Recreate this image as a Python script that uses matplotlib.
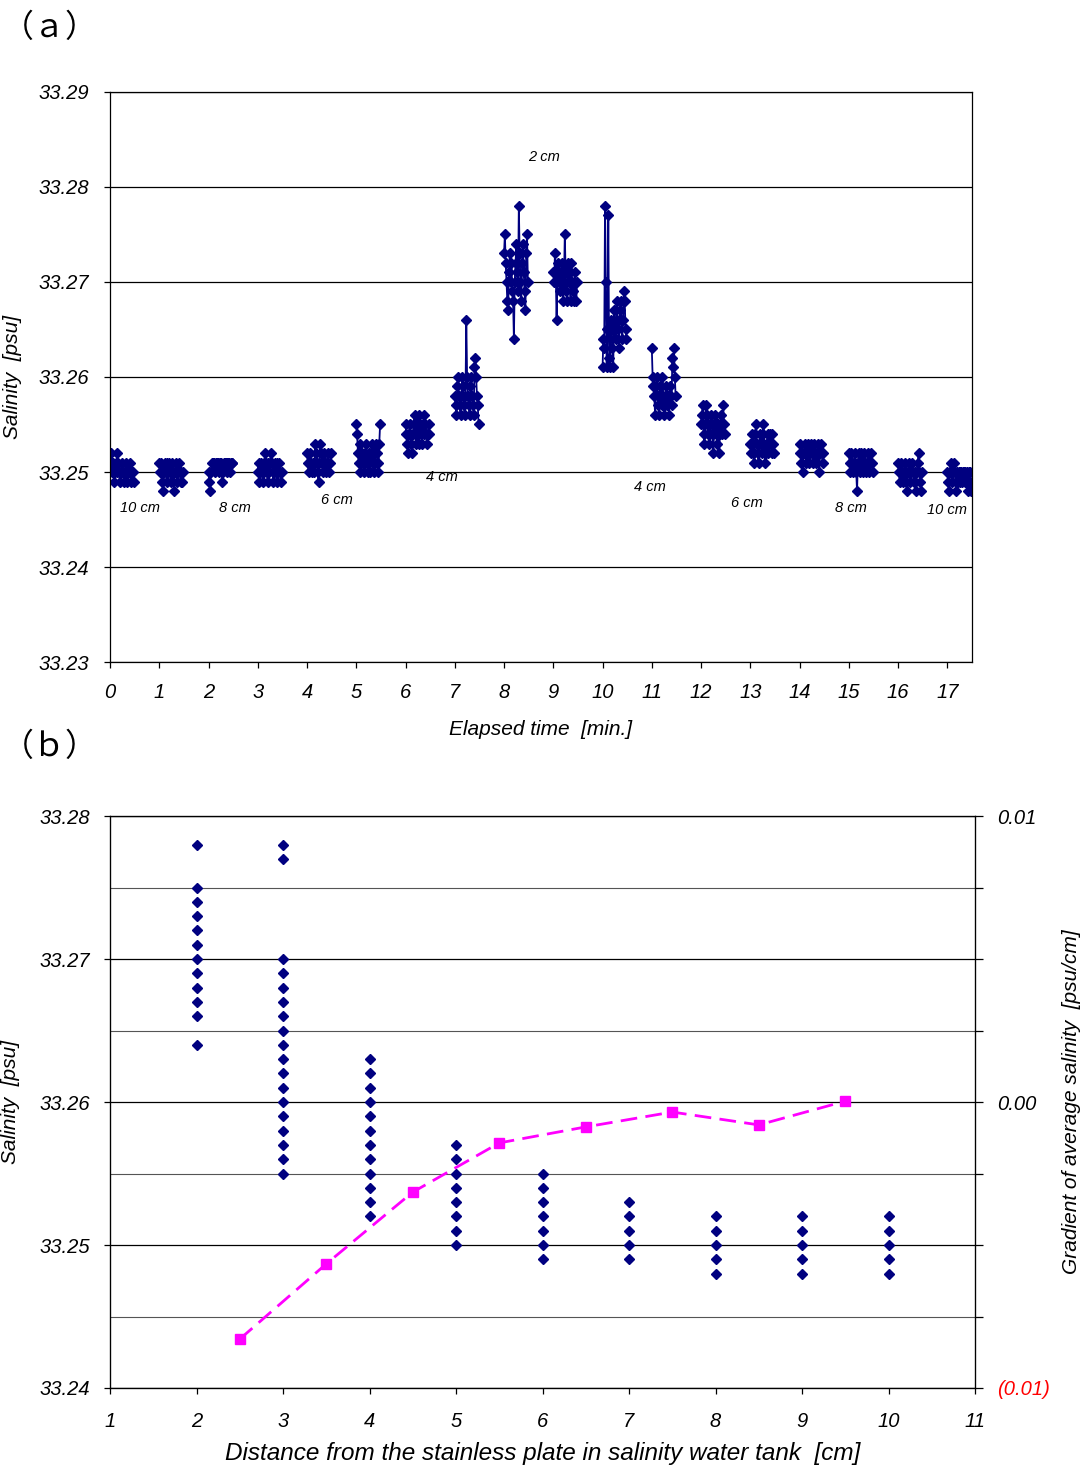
import numpy as np
import matplotlib
matplotlib.use("Agg")
import matplotlib.pyplot as plt
from matplotlib.ticker import MultipleLocator, FuncFormatter

# ---------------- Data: panel (a) ----------------
cluster_starts = [0, 1, 2, 3, 4, 5, 6, 7, 8, 9, 10, 11, 12, 13, 14, 15, 16, 17]  # min
sample_interval_min = 1.0 / 60.0

c00 = [33.251,33.252,33.251,33.250,33.251,33.249,33.250,33.251,33.250,33.252,33.251,33.250,33.249,33.250,33.251,33.250,33.250,33.249,33.250,33.251,33.250,33.249,33.250,33.250,33.251,33.250,33.249,33.250,33.250,33.249]
c01 = [33.251,33.250,33.251,33.249,33.250,33.248,33.250,33.251,33.250,33.249,33.251,33.250,33.251,33.250,33.249,33.250,33.251,33.250,33.248,33.250,33.251,33.250,33.249,33.250,33.251,33.250,33.249,33.250,33.249,33.250]
c02 = [33.250,33.249,33.248,33.250,33.251,33.251,33.251,33.251,33.250,33.251,33.251,33.251,33.251,33.250,33.251,33.251,33.250,33.249,33.250,33.251,33.251,33.251,33.251,33.250,33.251,33.251,33.250,33.251,33.251,33.251]
c03 = [33.250,33.251,33.249,33.250,33.251,33.250,33.249,33.250,33.251,33.252,33.251,33.250,33.249,33.251,33.250,33.251,33.252,33.251,33.250,33.249,33.250,33.251,33.250,33.249,33.251,33.250,33.251,33.250,33.249,33.250]
c04 = [33.252,33.251,33.250,33.251,33.252,33.251,33.250,33.251,33.250,33.251,33.253,33.252,33.251,33.250,33.249,33.251,33.253,33.252,33.251,33.250,33.251,33.252,33.251,33.250,33.251,33.252,33.251,33.250,33.251,33.252]
c05 = [33.255,33.254,33.252,33.251,33.253,33.250,33.251,33.252,33.251,33.250,33.251,33.252,33.253,33.251,33.250,33.252,33.251,33.250,33.252,33.253,33.251,33.250,33.252,33.251,33.253,33.252,33.251,33.250,33.253,33.255]
c06 = [33.255,33.254,33.253,33.252,33.254,33.255,33.254,33.253,33.252,33.254,33.255,33.256,33.254,33.253,33.255,33.254,33.253,33.256,33.255,33.254,33.253,33.255,33.254,33.256,33.255,33.254,33.253,33.254,33.255,33.254]
c07 = [33.258,33.257,33.256,33.259,33.260,33.258,33.257,33.256,33.258,33.260,33.259,33.257,33.256,33.258,33.266,33.260,33.258,33.257,33.256,33.259,33.260,33.258,33.257,33.256,33.261,33.262,33.260,33.258,33.257,33.255]
c08 = [33.273,33.275,33.272,33.270,33.268,33.267,33.271,33.273,33.270,33.272,33.269,33.268,33.264,33.270,33.272,33.274,33.271,33.269,33.278,33.273,33.270,33.268,33.272,33.274,33.271,33.269,33.267,33.273,33.275,33.270]
c09 = [33.271,33.270,33.273,33.271,33.266,33.270,33.272,33.271,33.269,33.270,33.272,33.271,33.268,33.270,33.275,33.271,33.269,33.268,33.272,33.270,33.271,33.268,33.272,33.270,33.269,33.268,33.271,33.270,33.268,33.270]
c10 = [33.261,33.264,33.263,33.278,33.270,33.261,33.265,33.277,33.262,33.261,33.266,33.265,33.263,33.261,33.267,33.265,33.264,33.268,33.266,33.265,33.263,33.267,33.268,33.266,33.264,33.266,33.269,33.268,33.265,33.264]
c11 = [33.263,33.260,33.259,33.258,33.256,33.259,33.260,33.258,33.257,33.256,33.259,33.258,33.257,33.260,33.258,33.256,33.257,33.259,33.258,33.257,33.258,33.256,33.259,33.258,33.257,33.262,33.261,33.263,33.260,33.258]
c12 = [33.255,33.256,33.257,33.254,33.253,33.255,33.257,33.256,33.254,33.255,33.253,33.254,33.256,33.255,33.254,33.252,33.255,33.256,33.254,33.255,33.253,33.255,33.252,33.254,33.256,33.255,33.254,33.257,33.255,33.254]
c13 = [33.253,33.252,33.254,33.253,33.251,33.252,33.254,33.255,33.253,33.252,33.251,33.253,33.254,33.253,33.252,33.254,33.255,33.253,33.251,33.252,33.253,33.254,33.252,33.253,33.254,33.253,33.252,33.254,33.253,33.252]
c14 = [33.252,33.253,33.251,33.252,33.250,33.252,33.253,33.252,33.251,33.252,33.253,33.252,33.251,33.252,33.253,33.252,33.251,33.252,33.253,33.252,33.251,33.252,33.253,33.252,33.250,33.252,33.253,33.252,33.251,33.252]
c15 = [33.252,33.251,33.250,33.252,33.251,33.250,33.251,33.252,33.251,33.250,33.248,33.251,33.252,33.251,33.250,33.252,33.251,33.250,33.251,33.252,33.251,33.250,33.251,33.252,33.251,33.250,33.251,33.252,33.251,33.250]
c16 = [33.251,33.250,33.249,33.250,33.251,33.250,33.249,33.250,33.251,33.250,33.249,33.248,33.250,33.251,33.250,33.249,33.250,33.251,33.250,33.249,33.250,33.249,33.248,33.250,33.251,33.252,33.250,33.249,33.248,33.250]
c17 = [33.250,33.249,33.248,33.250,33.251,33.250,33.249,33.250,33.251,33.250,33.249,33.248,33.250,33.249,33.250,33.250,33.249,33.250,33.249,33.250,33.250,33.249,33.250,33.249,33.250,33.248,33.250,33.249,33.250,33.248]
clusters = [c00, c01, c02, c03, c04, c05, c06, c07, c08, c09,
            c10, c11, c12, c13, c14, c15, c16, c17]

pos_labels = ["10 cm", "8 cm", "6 cm", "4 cm", "2 cm", "4 cm", "6 cm", "8 cm", "10 cm"]
pos_label_x = [0.61, 2.54, 4.6, 6.73, 8.82, 10.97, 12.92, 15.05, 17.0]
pos_label_y = [33.2462, 33.2462, 33.2471, 33.2495, 33.2831, 33.2484, 33.2467, 33.2462, 33.2460]

# ---------------- Data: panel (b) ----------------
dist_cm = [2, 3, 4, 5, 6, 7, 8, 9, 10]
sal_by_dist = [
    [33.278, 33.275, 33.274, 33.273, 33.272, 33.271, 33.270, 33.269, 33.268, 33.267, 33.266, 33.264],
    [33.278, 33.277, 33.270, 33.269, 33.268, 33.267, 33.266, 33.265, 33.264, 33.263, 33.262, 33.261,
     33.260, 33.259, 33.258, 33.257, 33.256, 33.255],
    [33.263, 33.262, 33.261, 33.260, 33.259, 33.258, 33.257, 33.256, 33.255, 33.254, 33.253, 33.252],
    [33.257, 33.256, 33.255, 33.254, 33.253, 33.252, 33.251, 33.250],
    [33.255, 33.254, 33.253, 33.252, 33.251, 33.250, 33.249],
    [33.253, 33.252, 33.251, 33.250, 33.249],
    [33.252, 33.251, 33.250, 33.249, 33.248],
    [33.252, 33.251, 33.250, 33.249, 33.248],
    [33.252, 33.251, 33.250, 33.249, 33.248],
]
grad_x = [2.5, 3.5, 4.5, 5.5, 6.5, 7.5, 8.5, 9.5]
grad_vals = [-0.00829, -0.00566, -0.00315, -0.00143, -0.00087, -0.00035, -0.00080, 0.00003]

# ---------------- Figure ----------------
NAVY = "#000080"
MAG = "#FF00FF"
FONT = "Liberation Sans"
plt.rcParams["font.family"] = [FONT, "DejaVu Sans"]
plt.rcParams["font.style"] = "italic"

fig = plt.figure(figsize=(10.86, 14.68), dpi=100)

# ----- Panel (a) -----
axa = fig.add_axes([0.1013, 0.549, 0.7937, 0.3884])
for start, vals in zip(cluster_starts, clusters):
    t = start + np.arange(len(vals)) * sample_interval_min
    axa.plot(t, vals, color=NAVY, lw=1.3, marker="D", ms=5.2, mfc=NAVY, mec=NAVY,
             clip_on=True)
axa.set_xlim(0, 17.5)
axa.set_ylim(33.23, 33.29)
axa.set_xticks(range(0, 18))
axa.yaxis.set_major_locator(MultipleLocator(0.01))
axa.yaxis.set_major_formatter(FuncFormatter(lambda v, p: f"{v:.2f}"))
axa.grid(axis="y", color="black", lw=0.9)
axa.set_axisbelow(True)
axa.tick_params(axis="both", labelsize=14.5, length=4, width=0.9, pad=11, direction="out")
for lab in axa.get_xticklabels() + axa.get_yticklabels():
    lab.set_fontstyle("italic")
for s in axa.spines.values():
    s.set_linewidth(0.9)
axa.set_xlabel("Elapsed time  [min.]", fontsize=15, style="italic", labelpad=13)
axa.set_ylabel("Salinity  [psu]", fontsize=15, style="italic", labelpad=12)
for txt, x, y in zip(pos_labels, pos_label_x, pos_label_y):
    axa.text(x, y, txt, fontsize=10.5, style="italic", ha="center", va="center")

fig.text(0.002, 0.981, "（ａ）", fontsize=23, family=["Noto Sans CJK JP"], style="normal",
         va="center", ha="left")
fig.text(0.002, 0.491, "（ｂ）", fontsize=23, family=["Noto Sans CJK JP"], style="normal",
         va="center", ha="left")

# ----- Panel (b) -----
axb = fig.add_axes([0.1013, 0.0545, 0.7965, 0.3896])
for d, vals in zip(dist_cm, sal_by_dist):
    axb.plot([d] * len(vals), vals, linestyle="none", marker="D", ms=5, color=NAVY, zorder=3)
axb.set_xlim(1, 11)
axb.set_ylim(33.24, 33.28)
axb.set_xticks(range(1, 12))
axb.yaxis.set_major_locator(MultipleLocator(0.01))
axb.yaxis.set_minor_locator(MultipleLocator(0.005))
axb.yaxis.set_major_formatter(FuncFormatter(lambda v, p: f"{v:.2f}"))
axb.grid(axis="y", which="major", color="black", lw=0.9)
axb.grid(axis="y", which="minor", color="#555555", lw=0.8)
axb.set_axisbelow(True)
axb.tick_params(axis="both", which="major", labelsize=14.5, length=4, width=0.9, pad=13)
axb.tick_params(axis="y", which="major", pad=10)
axb.tick_params(axis="y", which="minor", length=0)
for s in axb.spines.values():
    s.set_linewidth(0.9)
axb.set_xlabel("Distance from the stainless plate in salinity water tank  [cm]",
               fontsize=17.5, style="italic", labelpad=8)
axb.set_ylabel("Salinity  [psu]", fontsize=15, style="italic", labelpad=14)

axr = axb.twinx()
axr.plot(grad_x, grad_vals, color=MAG, lw=2, dashes=(6, 3), marker="s", ms=7.5,
         mfc=MAG, mec=MAG, zorder=4)
axr.set_ylim(-0.01, 0.01)
axr.yaxis.set_major_locator(MultipleLocator(0.01))
axr.yaxis.set_minor_locator(MultipleLocator(0.0025))
axr.yaxis.set_major_formatter(
    FuncFormatter(lambda v, p: f"({abs(v):.2f})" if v < -1e-9 else f"{abs(v):.2f}"))
axr.tick_params(axis="y", which="major", labelsize=14.5, length=6, width=0.9, pad=10)
axr.tick_params(axis="y", which="minor", length=6, width=0.9)
for lab in axr.get_yticklabels():
    lab.set_fontstyle("italic")
fig.canvas.draw()
for lab in axr.get_yticklabels():
    if lab.get_text().startswith("("):
        lab.set_color("red")
axr.set_ylabel("Gradient of average salinity  [psu/cm]", fontsize=15, style="italic",
               labelpad=4)
axr.yaxis.set_label_coords(1.101, 0.5)

fig.savefig("out.png", dpi=100)
